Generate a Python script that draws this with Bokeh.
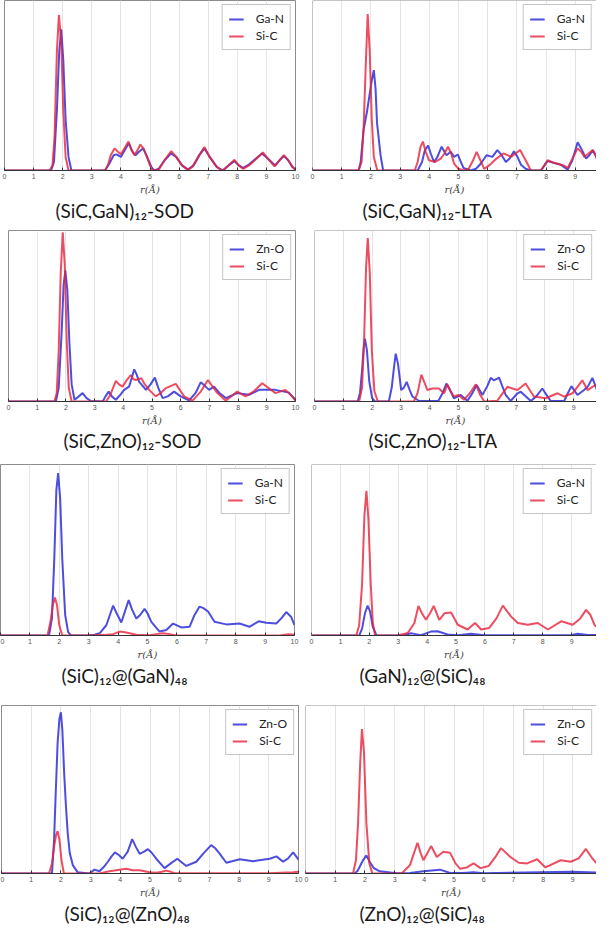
from bokeh.plotting import figure
from bokeh.layouts import column, row
from bokeh.models import Range1d, Span, Title, Legend, LegendItem, FixedTicker
from bokeh.embed import file_html
from bokeh.resources import INLINE

# ---------------- data ----------------
x_ticks = [0, 1, 2, 3, 4, 5, 6, 7, 8, 9, 10]

titles = ["(SiC,GaN)₁₂-SOD", "(SiC,GaN)₁₂-LTA",
          "(SiC,ZnO)₁₂-SOD", "(SiC,ZnO)₁₂-LTA",
          "(SiC)₁₂@(GaN)₄₈", "(GaN)₁₂@(SiC)₄₈",
          "(SiC)₁₂@(ZnO)₄₈", "(ZnO)₁₂@(SiC)₄₈"]
blue_names = ["Ga-N", "Ga-N", "Zn-O", "Zn-O", "Ga-N", "Ga-N", "Zn-O", "Zn-O"]
red_name = "Si-C"

# (SiC,GaN)12-SOD
p1_blue_r = [0, 1.6, 1.7, 1.8, 1.88, 1.95, 2.02, 2.1, 2.2, 2.3, 3.45, 3.6, 3.75, 3.85, 4.0, 4.1, 4.27, 4.4, 4.5, 4.62,
             4.77, 4.9, 5.05, 5.15, 5.3, 5.5, 5.72, 5.9, 6.1, 6.3, 6.5, 6.7, 6.87, 7.05, 7.3, 7.5, 7.7, 7.9, 8.05, 8.2,
             8.4, 8.6, 8.85, 9.05, 9.3, 9.45, 9.6, 9.75, 9.9, 10]
p1_blue_g = [0, 0, 5, 35, 70, 83, 65, 30, 8, 0, 0, 4, 9, 9.5, 8, 11, 16, 11, 9, 11,
             13, 8, 2, 0, 1, 6, 10, 8, 3, 0.5, 3, 9, 13, 8, 2, 0, 3, 5.5, 3, 1.5,
             3.5, 6.5, 10, 7, 3, 6, 8.5, 6, 2, 0.5]
p1_red_r = [0, 1.55, 1.65, 1.72, 1.8, 1.87, 1.95, 2.02, 2.1, 2.2, 3.45, 3.55, 3.65, 3.78, 3.9, 4.0, 4.12, 4.26, 4.37, 4.47,
            4.57, 4.67, 4.77, 4.87, 5.0, 5.1, 5.3, 5.5, 5.73, 5.9, 6.1, 6.3, 6.45, 6.65, 6.87, 7.05, 7.3, 7.5, 7.7, 7.9,
            8.05, 8.2, 8.4, 8.6, 8.88, 9.05, 9.28, 9.45, 9.6, 9.75, 9.9, 10]
p1_red_g = [0, 0, 3, 20, 70, 91.5, 75, 35, 8, 0, 0, 3, 9, 13, 11, 9.5, 13, 17, 12, 9,
            12, 15.3, 13, 9, 3, 0, 0.5, 6, 11.4, 8, 3, 0.5, 2, 8, 13.8, 8, 2, 0, 3, 6.3,
            3, 1, 3, 6, 10.6, 7, 2.5, 6, 9, 6, 2, 0.5]

# (SiC,GaN)12-LTA
p2_blue_r = [0, 1.58, 1.65, 1.75, 1.87, 1.95, 2.04, 2.1, 2.16, 2.21, 2.33, 2.42, 3.6, 3.75, 3.85, 3.96, 4.05, 4.16, 4.28,
             4.42, 4.52, 4.59, 4.73, 4.85, 4.98, 5.08, 5.17, 5.42, 5.6, 5.76, 5.96, 6.16, 6.33, 6.48, 6.62, 6.75, 6.9,
             7.02, 7.14, 7.3, 7.48, 7.82, 7.95, 8.05, 8.25, 8.5, 8.74, 8.9, 9.08, 9.2, 9.37, 9.48, 9.6, 9.72, 9.83, 10]
p2_blue_g = [0, 0, 5, 24, 35, 44, 54, 59, 48, 28, 9, 0, 0, 5, 12, 14.7, 10, 5, 8,
             14, 11, 9, 11, 8, 9.4, 5, 1.5, 0, 1, 4, 9, 8, 12, 9, 5, 7, 11.3,
             8, 3.4, 1, 0, 0, 3, 5.6, 4.5, 3.4, 0.5, 6, 16.6, 13, 7, 9, 12, 8, 1, 0.5]
p2_red_r = [0, 1.58, 1.68, 1.75, 1.82, 1.89, 1.96, 2.03, 2.1, 2.22, 3.5, 3.6, 3.7, 3.78, 3.88, 3.99, 4.2, 4.39, 4.52, 4.64,
            4.75, 4.85, 5.0, 5.19, 5.35, 5.5, 5.62, 5.75, 5.88, 6.05, 6.3, 6.54, 6.68, 6.8, 6.95, 7.11, 7.3, 7.48, 7.82,
            8.05, 8.2, 8.4, 8.6, 8.74, 8.9, 9.08, 9.2, 9.31, 9.45, 9.6, 9.72, 9.83, 10]
p2_red_g = [0, 0, 5, 25, 60, 92, 70, 30, 8, 0, 0, 5, 14, 17, 11, 6, 5, 7, 10, 14,
            10, 4, 1, 0, 1, 6, 11, 6, 1, 3, 7, 10, 9, 8, 10, 12, 6, 0, 0,
            6, 5, 4, 3, 1.5, 7, 13, 11, 8, 10, 12, 8, 2.5, 0.5]

# (SiC,ZnO)12-SOD
p3_blue_r = [0, 1.65, 1.75, 1.85, 1.92, 1.98, 2.05, 2.12, 2.2, 2.3, 2.45, 2.58, 2.72, 2.87, 3.28, 3.38, 3.49, 3.6, 3.74,
             3.9, 4.03, 4.2, 4.3, 4.38, 4.46, 4.55, 4.79, 4.95, 5.1, 5.22, 5.37, 5.55, 5.77, 6.0, 6.29, 6.52, 6.7, 6.85,
             6.99, 7.16, 7.35, 7.57, 7.97, 8.38, 8.73, 9.3, 9.77, 10]
p3_blue_g = [0, 0, 8, 40, 68, 76.7, 65, 35, 10, 1, 3, 4.9, 2, 0.3, 0, 3, 5.8, 3, 1,
             4, 6.8, 8.7, 14, 18.8, 16, 11.6, 6.8, 10, 14, 8, 2, 3, 5.8, 3, 0.6, 5, 11.3, 9,
             6.8, 8.7, 5, 2, 4.9, 3.9, 6.8, 6.8, 5.2, 1]
p3_red_r = [0, 1.6, 1.68, 1.75, 1.82, 1.89, 1.96, 2.03, 2.1, 2.2, 3.4, 3.55, 3.74, 3.85, 3.97, 4.1, 4.26, 4.35, 4.44,
            4.63, 4.75, 4.9, 5.13, 5.3, 5.48, 5.83, 6.0, 6.12, 6.41, 6.7, 6.95, 7.1, 7.28, 7.57, 7.97, 8.26, 8.55,
            8.84, 9.05, 9.3, 9.65, 9.88, 10]
p3_red_g = [0, 0, 5, 30, 75, 99, 80, 35, 8, 0, 0, 4, 12, 10, 8.7, 12, 15.5, 13, 12.6,
            13.6, 10, 6.8, 3, 5, 7.8, 10.3, 6, 3, 0.5, 5.8, 12.6, 9, 4.9, 0.4, 5.8, 3, 6,
            10.7, 8, 4.9, 6.8, 3, 0.5]

# (SiC,ZnO)12-LTA
p4_blue_r = [0, 1.5, 1.58, 1.65, 1.7, 1.75, 1.82, 1.9, 2.0, 2.1, 2.58, 2.68, 2.76, 2.82, 2.9, 3.01, 3.1, 3.2, 3.3, 3.4,
             3.63, 4.3, 4.45, 4.58, 4.7, 4.84, 5.08, 5.31, 5.45, 5.63, 5.83, 6.0, 6.12, 6.23, 6.41, 6.52, 6.64, 6.81,
             7.05, 7.16, 7.51, 7.7, 7.91, 8.05, 8.2, 8.67, 8.8, 8.92, 9.13, 9.36, 9.5, 9.65, 9.83, 10]
p4_blue_g = [0, 0, 5, 18, 30, 36.7, 30, 12, 2, 0, 0, 8, 20, 28, 22, 6.7, 8, 11.5, 7, 2.9,
             0.3, 0.3, 5, 10.5, 7, 1.9, 3.8, 0.5, 4, 9.6, 3.8, 9, 13.8, 12.4, 14, 9, 3.8, 0.3,
             4.8, 5.7, 0.3, 3, 7.6, 4, 0.3, 0.3, 5, 9, 3.8, 6.7, 9, 13.8, 5.7, 2.9]
p4_red_r = [0, 1.55, 1.65, 1.72, 1.79, 1.85, 1.92, 1.99, 2.08, 2.2, 3.45, 3.58, 3.71, 3.82, 3.92, 4.09, 4.32, 4.5, 4.61,
            4.72, 4.84, 5.0, 5.19, 5.4, 5.6, 5.75, 5.89, 6.35, 6.5, 6.7, 6.9, 7.05, 7.33, 7.5, 7.62, 8.03, 8.44, 8.67,
            8.96, 9.15, 9.3, 9.48, 9.65, 9.8, 9.94, 10]
p4_red_g = [0, 0, 8, 35, 78, 95.6, 75, 30, 6, 0, 0, 5, 15.7, 11, 6.7, 7.6, 7.6, 4.8, 10,
            6, 2.9, 3.8, 1, 5, 10, 4, 0, 0.5, 4, 8.6, 7.5, 6.7, 10.5, 6, 2.9, 1.9, 4.8, 2.9,
            4.8, 9, 12.4, 6.7, 8.6, 10, 10.5, 9]

# (SiC)12@(GaN)48
p5_blue_r = [0, 1.65, 1.75, 1.83, 1.9, 1.96, 2.03, 2.1, 2.2, 2.3, 2.4, 2.98, 3.2, 3.37, 3.6, 3.72, 3.83, 3.95, 4.11,
             4.25, 4.36, 4.48, 4.62, 4.75, 4.9, 5.0, 5.13, 5.41, 5.64, 5.87, 6.15, 6.43, 6.6, 6.77, 6.9, 7.06, 7.28,
             7.68, 8.13, 8.47, 8.78, 9.04, 9.38, 9.55, 9.72, 9.89, 10]
p5_blue_g = [0, 0, 10, 45, 85, 95, 80, 45, 12, 2, 0, 0, 0.5, 1.3, 6, 12, 17.5, 13, 7.6,
             15, 20.7, 15, 9.9, 12, 15.6, 13, 8, 2.3, 3.2, 7, 4.7, 5.1, 12, 16.9, 16, 14, 8,
             6.5, 7, 5.1, 8.3, 7.4, 7, 10, 13.7, 10.8, 6]
p5_red_r = [0, 1.6, 1.7, 1.78, 1.85, 1.92, 2.0, 2.1, 3.0, 3.6, 3.83, 4.05, 4.28, 4.62, 5.07, 5.3, 5.53, 5.75, 5.98,
            9.5, 9.8, 10]
p5_red_g = [0, 0, 8, 18, 22.2, 18, 6, 0, 0, 0.4, 0.8, 2.3, 1.7, 0.4, 0.2, 0.8, 1.3, 0.8, 0,
            0, 0.8, 0.5]

# (GaN)12@(SiC)48
p6_blue_r = [0, 1.65, 1.75, 1.85, 1.94, 2.03, 2.12, 2.25, 3.2, 3.44, 3.6, 3.79, 4.13, 4.36, 4.71, 5.06, 5.52, 5.98,
             7.6, 9.0, 9.21, 9.56, 10]
p6_blue_g = [0, 0, 4, 13, 17.5, 14, 5, 0, 0, 1.3, 0.8, 0.2, 2.3, 2.5, 0.6, 0.1, 1, 0.1,
             0.2, 0.3, 1, 0.3, 0.3]
p6_red_r = [0, 1.55, 1.65, 1.75, 1.83, 1.9, 1.97, 2.05, 2.12, 2.2, 2.98, 3.33, 3.56, 3.7, 3.82, 3.96, 4.1, 4.23, 4.42,
            4.6, 4.83, 5.06, 5.4, 5.66, 5.87, 6.15, 6.4, 6.62, 6.9, 7.14, 7.48, 7.83, 8.18, 8.64, 9.04, 9.3, 9.5,
            9.65, 9.79, 10]
p6_red_g = [0, 0, 6, 30, 70, 84.6, 68, 30, 8, 0, 0, 1.5, 7.3, 17.3, 13, 9.2, 13, 17.3, 9.2,
            13, 13.5, 6.3, 3.5, 7.3, 3.5, 4.4, 10, 17.5, 11.2, 7.3, 6.3, 7.3, 3.5, 8.3, 6.3, 10, 15,
            12, 6.3, 2.5]

# (SiC)12@(ZnO)48
p7_blue_r = [0, 1.7, 1.77, 1.83, 1.89, 1.95, 2.0, 2.05, 2.11, 2.17, 2.23, 2.3, 2.4, 2.56, 2.96, 3.13, 3.3, 3.45, 3.58,
             3.7, 3.82, 3.95, 4.08, 4.25, 4.4, 4.52, 4.65, 4.8, 4.93, 5.05, 5.21, 5.49, 5.7, 5.92, 6.22, 6.56, 6.8,
             7.06, 7.2, 7.35, 7.57, 8.02, 8.47, 9.03, 9.26, 9.48, 9.65, 9.82, 10]
p7_blue_g = [0, 0, 20, 50, 78, 92, 96, 85, 59.6, 40, 23.9, 12, 5, 0.8, 0, 2.3, 1.3, 4, 7,
             10, 12.6, 11, 8.8, 13, 20.5, 16, 11.7, 13, 14.5, 12.5, 8.8, 3.2, 6, 8.8, 4.5, 7, 12,
             16.9, 15, 11.7, 6.4, 8.5, 7.3, 8.8, 10.2, 7, 9, 12.6, 8.3]
p7_red_r = [0, 1.6, 1.7, 1.78, 1.84, 1.89, 1.95, 2.02, 2.1, 3.3, 3.63, 3.86, 4.2, 4.42, 4.65, 4.98, 5.21, 5.4, 5.55,
            5.7, 5.83, 9.0, 9.82, 10]
p7_red_g = [0, 0, 6, 17, 23, 25.2, 20, 8, 0, 0, 1.3, 1.9, 2.8, 1.9, 1.9, 0.8, 0.4, 1, 1.7,
            1, 0.2, 0.2, 0.8, 1]

# (ZnO)12@(SiC)48
p8_blue_r = [0, 1.65, 1.75, 1.83, 1.94, 2.05, 2.16, 2.3, 2.5, 2.78, 3.07, 3.52, 3.97, 4.25, 4.53, 4.87, 5.3, 5.66, 6.0,
             8.99, 10]
p8_blue_g = [0, 0, 1.5, 4.2, 8, 10.8, 7, 3.2, 1.3, 0.8, 0.2, 0.3, 1.3, 1.8, 2.3, 0.3, 0.3, 0.8, 0.2,
             1, 0.5]
p8_red_r = [0, 1.6, 1.7, 1.77, 1.84, 1.9, 1.97, 2.05, 2.15, 2.25, 3.24, 3.52, 3.65, 3.77, 3.88, 3.97, 4.1, 4.23, 4.42,
            4.64, 4.87, 5.05, 5.21, 5.43, 5.66, 5.89, 6.17, 6.4, 6.58, 6.9, 7.18, 7.46, 7.8, 8.08, 8.59, 8.93, 9.2,
            9.44, 9.66, 10]
p8_red_g = [0, 0, 8, 30, 65, 86, 72, 30, 6, 0, 0, 5.1, 12, 18.3, 12, 7.9, 12, 16.4, 9.8,
            13, 12.3, 6, 2.8, 3.6, 6, 3.2, 4.5, 10, 15.1, 9.8, 6.4, 6, 8.5, 3.6, 7.9, 7, 9,
            14.6, 8.9, 2.3]

panel_data = [
    (p1_blue_r, p1_blue_g, p1_red_r, p1_red_g),
    (p2_blue_r, p2_blue_g, p2_red_r, p2_red_g),
    (p3_blue_r, p3_blue_g, p3_red_r, p3_red_g),
    (p4_blue_r, p4_blue_g, p4_red_r, p4_red_g),
    (p5_blue_r, p5_blue_g, p5_red_r, p5_red_g),
    (p6_blue_r, p6_blue_g, p6_red_r, p6_red_g),
    (p7_blue_r, p7_blue_g, p7_red_r, p7_red_g),
    (p8_blue_r, p8_blue_g, p8_red_r, p8_red_g),
]

# ---------------- layout / style ----------------
Y_MAX = 100
PAGE_X0 = 8
LEFT_W = 304
RIGHT_W = 292
# per row: figure height, top border, frame height, left frame (x0px, x10px), right frame (x0px, x10px)
ROWS = [
    (224, 0, 174, (12, 303), (320, 612)),
    (232, 6, 171, (16, 303), (322, 610)),
    (233, 8, 175, (8, 302), (319, 608)),
    (238, 16, 175, (9, 306), (313, 610)),
]
# title left edge (page x px)
TITLE_X = [63, 370, 71, 376, 69, 367, 72, 367]
TITLE_STANDOFF = [2, 2, 0, 0, 2, 2, 2, 2]

BLUE = "#2020d8"
RED = "#e8203a"
FRAME = "#8c8c8c"


def make_panel(i):
    ri, ci = divmod(i, 2)
    fig_h, top, fh, lpx, rpx = ROWS[ri]
    if ci == 0:
        x0px, x10px = lpx
        fig_x0 = PAGE_X0
        w = LEFT_W
        frame_right = x10px
    else:
        x0px, x10px = rpx
        fig_x0 = PAGE_X0 + LEFT_W
        w = RIGHT_W
        frame_right = fig_x0 + RIGHT_W
    px_per_unit = (x10px - x0px) / 10.0
    x_end = (frame_right - x0px) / px_per_unit
    border_left = x0px - fig_x0
    border_right = fig_x0 + w - frame_right

    p = figure(width=w, height=fig_h, output_backend="svg", toolbar_location=None,
               x_range=Range1d(0, x_end), y_range=Range1d(0, Y_MAX),
               y_axis_location=None,
               min_border_left=border_left, min_border_right=border_right,
               min_border_top=top, min_border_bottom=fig_h - top - fh,
               background_fill_color="white", border_fill_color="white")

    br, bg, rr, rg = panel_data[i]
    lb = p.line(br, bg, line_color=BLUE, line_width=2, line_alpha=0.8)
    lr = p.line(rr, rg, line_color=RED, line_width=2, line_alpha=0.8)

    legend = Legend(items=[LegendItem(label=blue_names[i], renderers=[lb]),
                           LegendItem(label=red_name, renderers=[lr])],
                    location="top_right", margin=4, padding=6, spacing=2,
                    glyph_width=15, glyph_height=14, label_height=14, label_standoff=12,
                    label_text_font="Lato", label_text_font_size="12px", label_text_color="#222",
                    border_line_color=FRAME, border_line_width=1,
                    background_fill_color="white", background_fill_alpha=1.0)
    p.add_layout(legend)

    ax = p.xaxis[0]
    ax.ticker = FixedTicker(ticks=x_ticks)
    ax.axis_line_color = "#333333"
    ax.major_tick_line_color = "#333333"
    ax.major_tick_in = 3
    ax.major_tick_out = 0
    ax.minor_tick_line_color = None
    ax.major_label_text_font_size = "7px"
    ax.major_label_text_color = "#555555"
    ax.major_label_standoff = 3
    ax.axis_label = "r(Å)"
    ax.axis_label_text_font = "DejaVu Serif"
    ax.axis_label_text_font_style = "italic"
    ax.axis_label_text_font_size = "10px"
    ax.axis_label_text_color = "#444444"
    ax.axis_label_standoff = 2

    p.xgrid.grid_line_color = "#e4e4e4"
    p.ygrid.grid_line_color = None

    if ci == 0:
        p.outline_line_color = FRAME
        p.outline_line_width = 1
    else:
        p.outline_line_color = None
        p.add_layout(Span(location=Y_MAX, dimension="width", line_color=FRAME, line_width=1))
        p.add_layout(Span(location=0, dimension="height", line_color=FRAME, line_width=1))

    p.add_layout(Title(text=titles[i], align="left", offset=TITLE_X[i] - x0px,
                       standoff=TITLE_STANDOFF[i], vertical_align="top",
                       text_font="Lato", text_font_size="19px", text_font_style="normal",
                       text_color="#1a1a1a"), "below")
    return p


figs = [make_panel(i) for i in range(8)]
layout = column(*[row(figs[2 * k], figs[2 * k + 1], spacing=0) for k in range(4)], spacing=0)

open("out.html", "w").write(file_html(layout, INLINE))
